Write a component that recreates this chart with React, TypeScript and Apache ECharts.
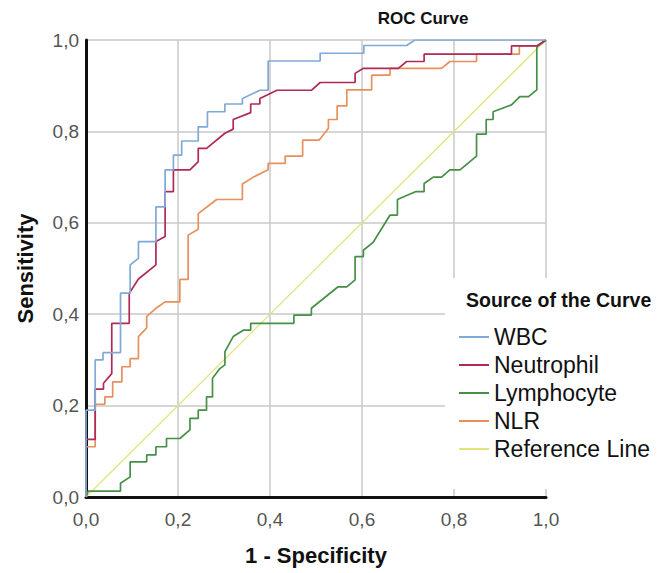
import React, { useEffect, useRef } from "react";
import * as echarts from "echarts";

const seriesNames = ["WBC", "Neutrophil", "Lymphocyte", "NLR", "Reference Line"];
const seriesColors = ["#7fa9d6", "#b02a58", "#468f46", "#e88f5c", "#e3e37e"];
const tickLabels = ["0,0", "0,2", "0,4", "0,6", "0,8", "1,0"];

const wbc: number[][] = [
  [0, 0], [0, 0.19], [0.02, 0.19], [0.02, 0.3], [0.037, 0.3], [0.037, 0.316], [0.075, 0.316],
  [0.075, 0.446], [0.096, 0.446], [0.096, 0.508], [0.114, 0.522], [0.114, 0.559], [0.152, 0.559],
  [0.152, 0.635], [0.172, 0.635], [0.172, 0.716], [0.19, 0.716], [0.19, 0.748], [0.208, 0.748],
  [0.208, 0.779], [0.244, 0.779], [0.244, 0.81], [0.264, 0.81], [0.264, 0.843], [0.302, 0.843],
  [0.302, 0.86], [0.34, 0.86], [0.34, 0.872], [0.378, 0.89], [0.396, 0.89], [0.396, 0.954],
  [0.509, 0.954], [0.509, 0.971], [0.604, 0.971], [0.604, 0.988], [0.697, 0.988], [0.715, 1.0], [1, 1],
];

const neutrophil: number[][] = [
  [0, 0], [0, 0.126], [0.02, 0.126], [0.02, 0.236], [0.038, 0.236], [0.038, 0.249], [0.056, 0.27],
  [0.056, 0.38], [0.094, 0.38], [0.094, 0.446], [0.114, 0.477], [0.152, 0.508], [0.152, 0.559],
  [0.172, 0.57], [0.172, 0.668], [0.19, 0.668], [0.19, 0.716], [0.226, 0.716], [0.244, 0.734],
  [0.244, 0.763], [0.262, 0.763], [0.302, 0.796], [0.32, 0.805], [0.32, 0.826], [0.358, 0.841],
  [0.358, 0.86], [0.378, 0.86], [0.378, 0.872], [0.415, 0.89], [0.49, 0.89], [0.509, 0.907],
  [0.585, 0.907], [0.585, 0.927], [0.603, 0.938], [0.679, 0.938], [0.697, 0.953], [0.735, 0.953],
  [0.735, 0.969], [0.925, 0.969], [0.925, 0.987], [0.98, 0.987], [1, 1],
];

const lymphocyte: number[][] = [
  [0, 0], [0.005, 0.013], [0.075, 0.013], [0.075, 0.03], [0.096, 0.044], [0.096, 0.077],
  [0.132, 0.077], [0.132, 0.092], [0.152, 0.092], [0.152, 0.11], [0.175, 0.11], [0.175, 0.128],
  [0.204, 0.128], [0.226, 0.147], [0.226, 0.172], [0.244, 0.172], [0.244, 0.19], [0.262, 0.19],
  [0.262, 0.219], [0.275, 0.219], [0.275, 0.26], [0.291, 0.281], [0.302, 0.289], [0.302, 0.318],
  [0.32, 0.351], [0.342, 0.365], [0.358, 0.365], [0.358, 0.38], [0.452, 0.38], [0.452, 0.398],
  [0.49, 0.398], [0.49, 0.413], [0.548, 0.46], [0.567, 0.46], [0.585, 0.475], [0.585, 0.526],
  [0.603, 0.526], [0.603, 0.54], [0.624, 0.557], [0.661, 0.617], [0.677, 0.617], [0.677, 0.651],
  [0.716, 0.668], [0.735, 0.668], [0.735, 0.686], [0.755, 0.7], [0.773, 0.7], [0.791, 0.716],
  [0.813, 0.716], [0.849, 0.746], [0.849, 0.794], [0.87, 0.794], [0.87, 0.826], [0.885, 0.826],
  [0.885, 0.843], [0.925, 0.858], [0.943, 0.876], [0.962, 0.876], [0.98, 0.891], [0.98, 0.985], [1, 1],
];

const nlr: number[][] = [
  [0, 0], [0, 0.11], [0.02, 0.11], [0.02, 0.203], [0.041, 0.203], [0.041, 0.219], [0.058, 0.219],
  [0.058, 0.252], [0.078, 0.252], [0.078, 0.285], [0.096, 0.285], [0.096, 0.303], [0.114, 0.303],
  [0.114, 0.351], [0.132, 0.37], [0.132, 0.395], [0.152, 0.413], [0.172, 0.427], [0.204, 0.427],
  [0.204, 0.476], [0.222, 0.476], [0.222, 0.573], [0.244, 0.586], [0.244, 0.62], [0.284, 0.651],
  [0.34, 0.651], [0.34, 0.685], [0.364, 0.7], [0.396, 0.716], [0.396, 0.73], [0.433, 0.73],
  [0.433, 0.746], [0.471, 0.746], [0.471, 0.781], [0.507, 0.781], [0.527, 0.807], [0.527, 0.826],
  [0.546, 0.826], [0.546, 0.856], [0.567, 0.856], [0.567, 0.891], [0.621, 0.891], [0.621, 0.923],
  [0.661, 0.923], [0.661, 0.938], [0.773, 0.938], [0.791, 0.953], [0.849, 0.953], [0.849, 0.969],
  [0.942, 0.969], [0.942, 0.987], [0.98, 0.987], [1, 1],
];

const referenceLine: number[][] = [[0, 0], [1, 1]];

const seriesData = [wbc, neutrophil, lymphocyte, nlr, referenceLine];

const FONT = "'Liberation Sans', Arial, sans-serif";

export default function App() {
  const ref = useRef<HTMLDivElement>(null);
  useEffect(() => {
    if (!ref.current) return;
    const chart = echarts.init(ref.current, null, { renderer: "svg" });
    const tickFmt = (v: number) => tickLabels[Math.round(v / 0.2)] ?? "";
    const axisCommon = {
      type: "value" as const,
      min: 0,
      max: 1,
      interval: 0.2,
      axisTick: { show: false },
      axisLabel: { fontSize: 19, color: "#555", fontFamily: FONT, formatter: tickFmt },
      splitLine: { show: true, lineStyle: { color: "#c9c9c9", width: 1.5 } },
      nameLocation: "middle" as const,
      nameTextStyle: { fontSize: 22, fontWeight: "bold" as const, color: "#111", fontFamily: FONT },
    };
    chart.setOption({
      animation: false,
      backgroundColor: "#fff",
      grid: { left: 86, right: 116, top: 40, bottom: 76, containLabel: false },
      xAxis: {
        ...axisCommon,
        name: "1 - Specificity",
        nameGap: 47,
        axisLine: { show: true, onZero: false, lineStyle: { color: "#111", width: 3 } },
        axisLabel: { ...axisCommon.axisLabel, margin: 13 },
      },
      yAxis: {
        ...axisCommon,
        name: "Sensitivity",
        nameGap: 50,
        nameRotate: 90,
        axisLine: { show: true, onZero: false, lineStyle: { color: "#111", width: 3 } },
        axisLabel: { ...axisCommon.axisLabel, margin: 7 },
      },
      legend: {
        orient: "vertical",
        left: 459,
        top: 323,
        padding: 0,
        itemGap: 0,
        itemWidth: 30,
        itemHeight: 2,
        icon: "rect",
        selectedMode: false,
        z: 10,
        textStyle: { fontSize: 23, lineHeight: 28, color: "#111", fontFamily: FONT },
        data: seriesNames,
      },
      graphic: [
        {
          type: "rect",
          z: 5,
          shape: { x: 445, y: 278, width: 217, height: 211 },
          style: { fill: "#fff" },
        },
        {
          type: "text",
          z: 6,
          x: 466,
          y: 300,
          style: {
            text: "Source of the Curve",
            fontSize: 19.5,
            fontWeight: "bold",
            fontFamily: FONT,
            fill: "#111",
            verticalAlign: "middle",
          },
        },
        {
          type: "text",
          z: 6,
          x: 423,
          y: 18,
          style: {
            text: "ROC Curve",
            fontSize: 17,
            fontWeight: "bold",
            fontFamily: FONT,
            fill: "#111",
            align: "center",
            verticalAlign: "middle",
          },
        },
      ],
      series: seriesNames.map((name, i) => ({
        name,
        type: "line",
        data: seriesData[i],
        showSymbol: false,
        symbol: "none",
        color: seriesColors[i],
        lineStyle: { color: seriesColors[i], width: i === 4 ? 1.3 : 1.7 },
        z: 2 + (4 - i),
      })),
    });
    return () => chart.dispose();
  }, []);
  return (
    <div
      ref={ref}
      style={{ position: "fixed", left: 0, top: 0, width: 662, height: 573, background: "#fff" }}
    />
  );
}
